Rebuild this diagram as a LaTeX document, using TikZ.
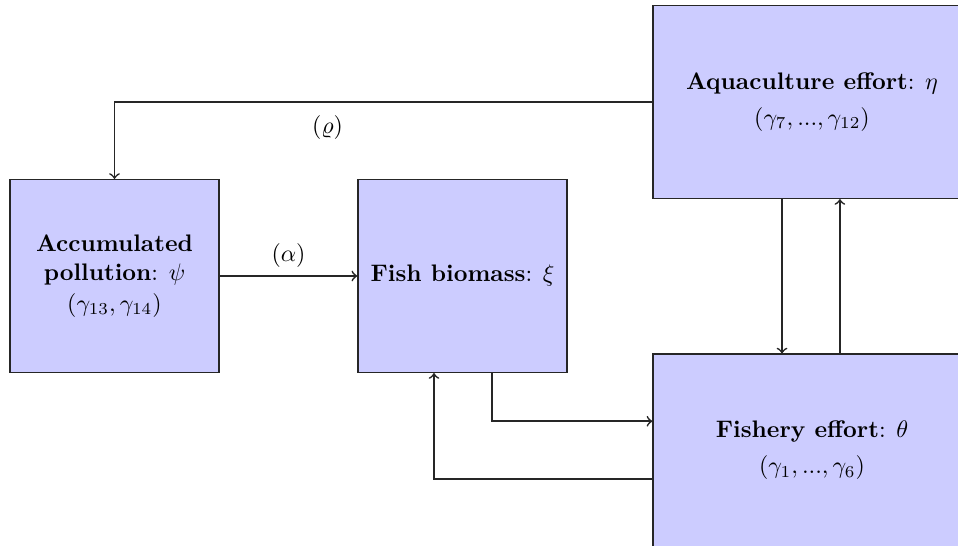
\documentclass[tikz,border=0pt]{standalone}
\usepackage{tikz}
\begin{document}
\begin{tikzpicture}[x=0.0147cm,y=-0.0147cm,
  boxnode/.style={draw=black!85, line width=0.6pt, fill=blue!20, align=center, inner sep=0pt},
  smallbox/.style={boxnode, minimum width=3.07cm, minimum height=2.83cm},
  widebox/.style={boxnode, minimum width=4.67cm, minimum height=2.83cm},
  conn/.style={->, line width=0.7pt, draw=black!85}]
\useasboundingbox (0,0) rectangle (958,545);
\clip (0,0) rectangle (958,545);
\node[smallbox] (poll) at (114.5,276) {\textbf{Accumulated}\\\textbf{pollution}: $\psi$\\[1pt]$(\gamma_{13},\gamma_{14})$};
\node[smallbox] (fish) at (462.5,276) {\textbf{Fish biomass}: $\xi$};
\node[widebox] (aqua) at (812,102) {\textbf{Aquaculture effort}: $\eta$\\[3pt]$(\gamma_{7}, ..., \gamma_{12})$};
\node[widebox] (fishery) at (812,450.5) {\textbf{Fishery effort}: $\theta$\\[3pt]$(\gamma_{1}, ..., \gamma_{6})$};
\draw[conn] (aqua.west) -| (poll.north) node[pos=0.302, below, yshift=-2pt] (rho) {$(\varrho)$};
\draw[conn] (poll.east) -- (fish.west) node[midway, above] (alpha) {$(\alpha)$};
\draw[conn] ([xshift=0.434cm]fish.south) |- ([yshift=0.43cm]fishery.west);
\draw[conn] ([yshift=-0.42cm]fishery.west) -| ([xshift=-0.419cm]fish.south);
\draw[conn] ([xshift=-0.441cm]aqua.south) -- ([xshift=-0.441cm]fishery.north);
\draw[conn] ([xshift=0.41cm]fishery.north) -- ([xshift=0.41cm]aqua.south);
\end{tikzpicture}
\end{document}
